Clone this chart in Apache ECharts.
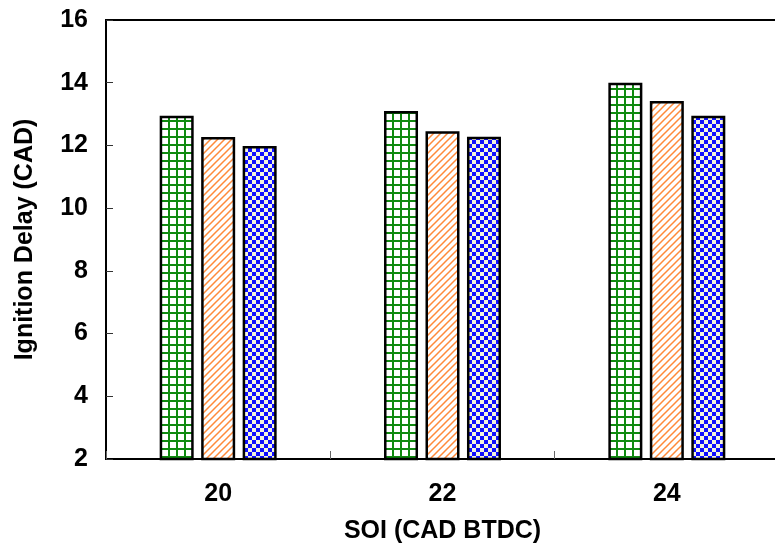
<!DOCTYPE html>
<html>
<head>
<meta charset="utf-8">
<script src="https://cdn.jsdelivr.net/npm/echarts@6/dist/echarts.min.js"></script>
<style>
  html, body { margin: 0; padding: 0; background: #fff; }
  #chart { width: 775px; height: 546px; }
</style>
</head>
<body>
<div id="chart"></div>
<script>
// Start of injection (CAD BTDC) and measured ignition delay (CAD)
const categories = ['20', '22', '24'];
const seriesA = [12.95, 13.1, 14.0];
const seriesB = [12.27, 12.45, 13.42];
const seriesC = [11.98, 12.28, 12.95];
const yTicks = [2, 4, 6, 8, 10, 12, 14, 16];

// Fill patterns drawn on small canvases
function gridPattern() {
  const c = document.createElement('canvas');
  c.width = 8; c.height = 8;
  const g = c.getContext('2d');
  g.fillStyle = '#ffffff'; g.fillRect(0, 0, 8, 8);
  g.fillStyle = '#108a10';
  g.fillRect(0, 0, 8, 2);
  g.fillRect(0, 0, 2, 8);
  return c;
}
function stripePattern() {
  const c = document.createElement('canvas');
  c.width = 7; c.height = 7;
  const g = c.getContext('2d');
  g.fillStyle = '#ffffff'; g.fillRect(0, 0, 7, 7);
  g.strokeStyle = '#ff8a3a'; g.lineWidth = 1.5;
  g.beginPath();
  g.moveTo(-1, 8); g.lineTo(8, -1);
  g.moveTo(-4.5, 4.5); g.lineTo(4.5, -4.5);
  g.moveTo(2.5, 11.5); g.lineTo(11.5, 2.5);
  g.stroke();
  return c;
}
function checkPattern() {
  const c = document.createElement('canvas');
  c.width = 8; c.height = 8;
  const g = c.getContext('2d');
  g.fillStyle = '#1010ff'; g.fillRect(0, 0, 8, 8);
  g.fillStyle = '#f4f4dc';
  g.fillRect(0, 0, 4, 4);
  g.fillRect(4, 4, 4, 4);
  return c;
}

const font = 'Liberation Sans, Arial, sans-serif';
const chart = echarts.init(document.getElementById('chart'));

function barSeries(data, pattern) {
  return {
    type: 'bar',
    data: data,
    barWidth: 34,
    barGap: '22%',
    itemStyle: {
      color: { image: pattern, repeat: 'repeat' },
      borderColor: '#000',
      borderWidth: 2.5
    }
  };
}

chart.setOption({
  animation: false,
  grid: {
    left: 106, top: 20, width: 673, height: 439,
    containLabel: false,
    outerBoundsMode: 'none',
    show: true, borderColor: '#000', borderWidth: 2, backgroundColor: '#fff'
  },
  xAxis: {
    type: 'category',
    data: categories,
    name: 'SOI (CAD BTDC)',
    nameLocation: 'middle',
    nameGap: 60,
    nameTextStyle: { fontFamily: font, fontWeight: 'bold', fontSize: 25, color: '#000' },
    axisLine: { lineStyle: { color: '#000', width: 2 } },
    axisTick: { show: true, inside: true, length: 8, lineStyle: { color: '#666', width: 1 } },
    axisLabel: { fontFamily: font, fontWeight: 'bold', fontSize: 25, color: '#000', margin: 23 },
    splitLine: { show: false }
  },
  yAxis: {
    type: 'value',
    min: 2, max: 16, interval: 2,
    name: 'Ignition Delay (CAD)',
    nameLocation: 'middle',
    nameGap: 68,
    nameRotate: 90,
    nameTextStyle: { fontFamily: font, fontWeight: 'bold', fontSize: 25, color: '#000' },
    axisLine: { show: true, lineStyle: { color: '#000', width: 2 } },
    axisTick: { show: true, inside: true, length: 7, lineStyle: { color: '#333', width: 1 } },
    axisLabel: {
      fontFamily: font, fontWeight: 'bold', fontSize: 25, color: '#000', margin: 18,
      formatter: v => (yTicks.includes(v) ? String(v) : '')
    },
    splitLine: { show: false }
  },
  series: [
    barSeries(seriesA, gridPattern()),
    barSeries(seriesB, stripePattern()),
    barSeries(seriesC, checkPattern())
  ]
});
</script>
</body>
</html>
